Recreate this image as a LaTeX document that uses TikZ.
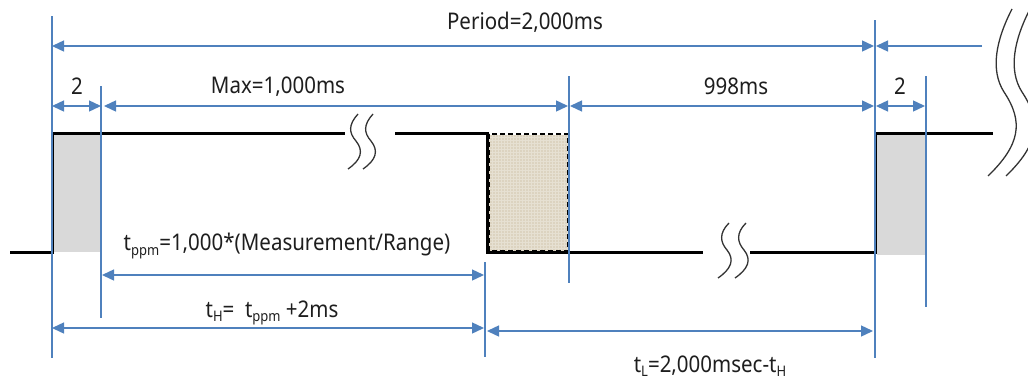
\documentclass[tikz,border=0pt]{standalone}
\usepackage{fontspec}
\setmainfont{Noto Sans}
\usetikzlibrary{arrows.meta,patterns}
\definecolor{dimblue}{HTML}{4F81BD}
\definecolor{greyfill}{HTML}{D9D9D9}
\definecolor{linen}{HTML}{DCD3C0}
\definecolor{linenlight}{HTML}{E6E0D2}
\definecolor{txt}{HTML}{1E1E1E}
\newcommand{\mysub}[1]{\raisebox{-0.35ex}{\fontsize{13}{13}\selectfont #1}}
\tikzset{
  dim/.style={draw=dimblue,line width=1.4pt},
  dimarrow/.style={dim,{Triangle[length=12pt,width=11pt]}-{Triangle[length=12pt,width=11pt]}},
  dimarrowR/.style={dim,-{Triangle[length=12pt,width=11pt]}},
  signal/.style={draw=black,line width=3pt},
  squig/.style={draw=black!80,line width=1.3pt},
  lbl/.style={text=txt,font=\fontsize{20.5}{24}\selectfont,inner sep=0pt,yscale=1.12},
}
\begin{document}
\begin{tikzpicture}[x=1pt,y=-1pt]
\useasboundingbox (0,0) rectangle (1028,383);
% shaded regions
\fill[greyfill] (54,134) rectangle (101,252);
\fill[greyfill] (877,134) rectangle (926,255);
\fill[linen] (489,135) rectangle (569,251);
\fill[pattern=grid,pattern color=linenlight] (489,135) rectangle (569,251);
\draw[black,line width=1.8pt,dash pattern=on 5pt off 3pt] (489,134) rectangle (568,251);
% signal
\coordinate (s0) at (10,252);
\coordinate (s1) at (52,252);
\coordinate (s2) at (52,133);
\coordinate (s3) at (345,133);
\coordinate (s4) at (395,133);
\coordinate (s5) at (487,133);
\coordinate (s6) at (487,252);
\coordinate (s7) at (703,252);
\coordinate (s8) at (750,252);
\coordinate (s9) at (875,252);
\coordinate (s10) at (875,133);
\coordinate (s11) at (993,133);
\draw[signal,line join=miter] (s0) -- (s1) -- (s2) -- (s3);
\draw[signal,line join=miter] (s4) -- (s5) -- (s6) -- (s7);
\draw[signal,line join=miter] (s8) -- (s9) -- (s10) -- (s11);
% squiggles
\foreach \dx in {0,15}{
  \draw[squig,xshift=\dx] (358,114) .. controls (348,125) and (349,133) .. (356,141) .. controls (364,151) and (361,160) .. (348,169);
}
\foreach \dx in {0,17}{
  \draw[squig,xshift=\dx] (729,223) .. controls (719,233) and (720,242) .. (727,250) .. controls (735,260) and (731,269) .. (718,278);
}
\foreach \dx in {0,18}{
  \draw[squig,xshift=\dx] (1012,9) .. controls (996,40) and (990,70) .. (1004,92) .. controls (1024,122) and (1020,145) .. (988,176);
}
% vertical reference lines
\coordinate (v1t) at (52,16);  \coordinate (v1b) at (52,358);
\coordinate (v2t) at (101,86); \coordinate (v2b) at (101,318);
\coordinate (v3t) at (485,262); \coordinate (v3b) at (485,357);
\coordinate (v4t) at (569,76); \coordinate (v4b) at (569,283);
\coordinate (v5t) at (875,20); \coordinate (v5b) at (875,358);
\coordinate (v6t) at (926,76); \coordinate (v6b) at (926,307);
\foreach \v in {1,...,6}{\draw[dim] (v\v t) -- (v\v b);}
% dimension arrows
\coordinate (pa) at (52,46);  \coordinate (pb) at (874,46);
\coordinate (pc) at (982,46); \coordinate (pd) at (876,46);
\draw[dimarrow] (pa) -- (pb);
\draw[dimarrowR] (pc) -- (pd);
\coordinate (a1) at (52,106); \coordinate (a2) at (101,106);
\coordinate (a3) at (104,106); \coordinate (a4) at (568,106);
\coordinate (a5) at (570,106); \coordinate (a6) at (874,106);
\coordinate (a7) at (876,106); \coordinate (a8) at (925,106);
\draw[dimarrow] (a1) -- (a2);
\draw[dimarrow] (a3) -- (a4);
\draw[dimarrow] (a5) -- (a6);
\draw[dimarrow] (a7) -- (a8);
\coordinate (b1) at (102,275); \coordinate (b2) at (484,275);
\draw[dimarrow] (b1) -- (b2);
\coordinate (c1) at (52,328); \coordinate (c2) at (484,328);
\draw[dimarrow] (c1) -- (c2);
\coordinate (d1) at (487,331); \coordinate (d2) at (873,331);
\draw[dimarrow] (d1) -- (d2);
% labels
\node[lbl] (period) at (525,22) {Period=2,000ms};
\node[lbl] (two1) at (77,86) {2};
\node[lbl] (max) at (278,87) {Max=1,000ms};
\node[lbl] (ms998) at (736,86) {998ms};
\node[lbl] (two2) at (900,86) {2};
\node[lbl] (tppm) at (287,246) {t\mysub{ppm}=1,000*(Measurement/Range)};
\node[lbl] (th) at (272,313) {t\mysub{H}= \ t\mysub{ppm} +2ms};
\node[lbl] (tl) at (710,366) {t\mysub{L}=2,000msec-t\mysub{H}};
\end{tikzpicture}
\end{document}
